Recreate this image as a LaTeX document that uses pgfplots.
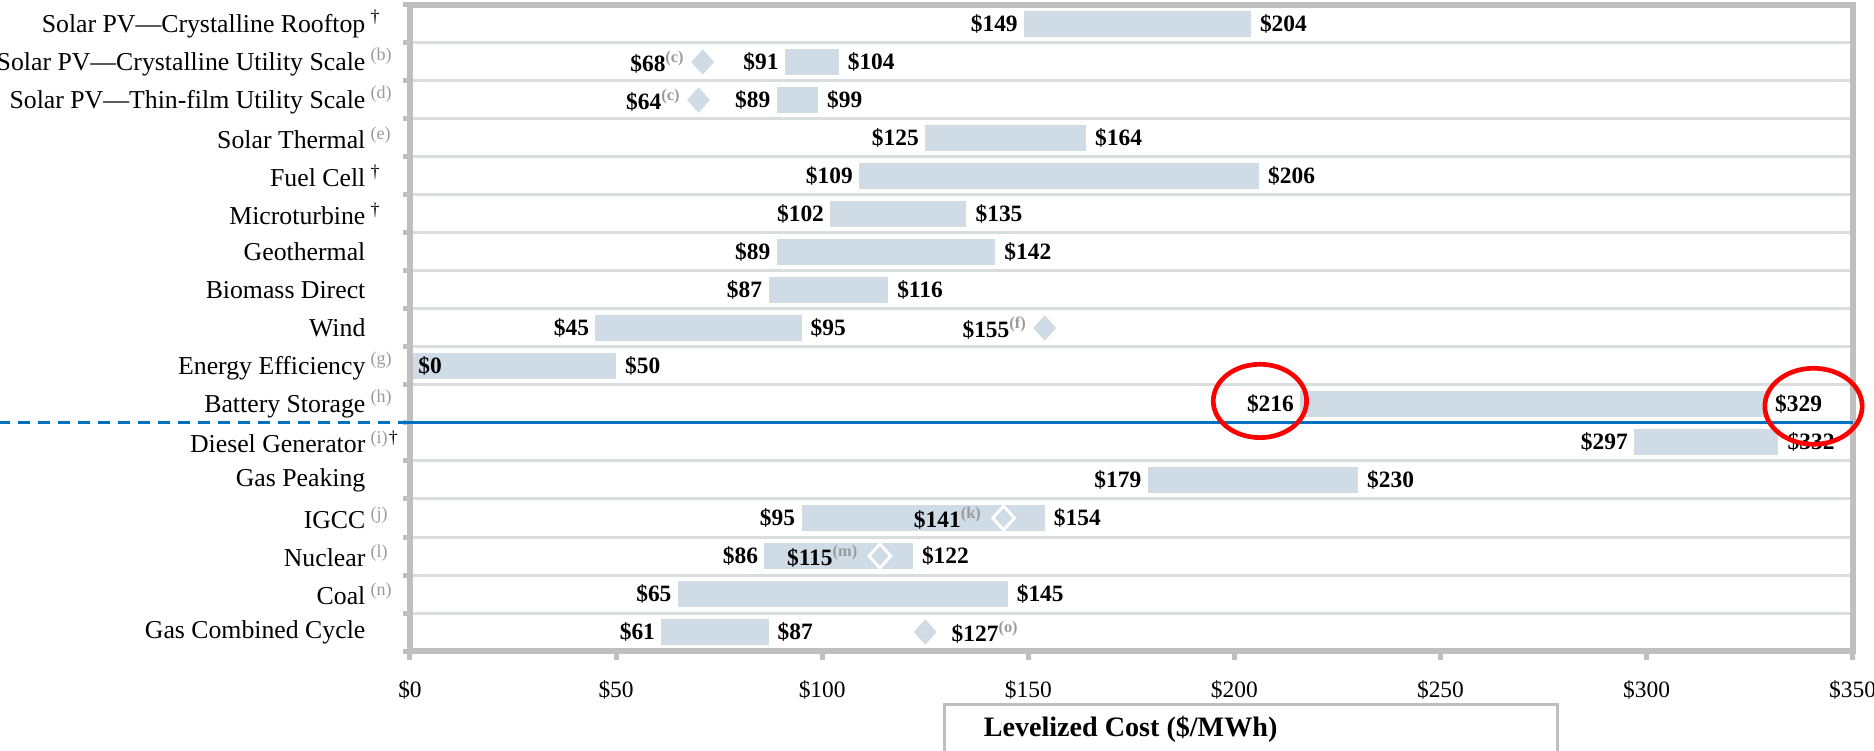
\documentclass[border=0pt]{standalone}
\usepackage{pgfplots}
\pgfplotsset{compat=1.18}
\usepackage{pgfplotstable}
\usepackage{fontspec}
\setmainfont{Liberation Serif}

\definecolor{barfill}{HTML}{CFDCE6}
\definecolor{frame}{HTML}{BFBFBF}
\definecolor{sepline}{HTML}{D9DDDD}
\definecolor{linkblue}{HTML}{0070C0}
\definecolor{supgray}{HTML}{9A9A9A}

% footnote marks: gray superscripts, hung to the right of the label
\newcommand{\sups}[1]{\textsuperscript{\color{supgray}#1}}
\newcommand{\trail}[1]{\rlap{\hspace{0.8mm}#1}}

% levelized cost ranges, $/MWh (row 1 = top of chart)
\pgfplotstableread{
row lo  hi
1   149 204
2   91  104
3   89  99
4   125 164
5   109 206
6   102 135
7   89  142
8   87  116
9   45  95
10  0   50
11  216 329
12  297 332
13  179 230
14  95  154
15  86  122
16  65  145
17  61  87
}\costs

\begin{document}
\begin{tikzpicture}
\begin{axis}[
    at={(0,0)}, anchor=south west,
    scale only axis,
    width=216.4mm, height=96.9mm,
    xmin=0, xmax=350,
    ymin=0.5, ymax=17.5,
    y dir=reverse,
    clip=false,
    axis on top,
    xtick={0,50,...,350},
    xticklabels={\$0,\$50,\$100,\$150,\$200,\$250,\$300,\$350},
    ytick={1,...,17},
    yticklabels={
        {Solar PV—Crystalline Rooftop\trail{\textsuperscript{†}}},
        {Solar PV—Crystalline Utility Scale\trail{\sups{(b)}}},
        {Solar PV—Thin-film Utility Scale\trail{\sups{(d)}}},
        {Solar Thermal\trail{\sups{(e)}}},
        {Fuel Cell\trail{\textsuperscript{†}}},
        {Microturbine\trail{\textsuperscript{†}}},
        Geothermal,
        Biomass Direct,
        Wind,
        {Energy Efficiency\trail{\sups{(g)}}},
        {Battery Storage\trail{\sups{(h)}}},
        {Diesel Generator\trail{\sups{(i)}\textsuperscript{†}}},
        Gas Peaking,
        {IGCC\trail{\sups{(j)}}},
        {Nuclear\trail{\sups{(l)}}},
        {Coal\trail{\sups{(n)}}},
        Gas Combined Cycle},
    minor ytick={0.5,1.5,...,17.5},
    yminorgrids=true,
    minor grid style={draw=sepline, line width=0.45mm},
    tick align=outside,
    xtick pos=bottom, ytick pos=left,
    major tick length=1.35mm,
    minor tick length=1.05mm,
    every major x tick/.append style={draw=frame, line width=0.75mm},
    every major y tick/.append style={draw=none},
    every minor y tick/.append style={draw=frame, line width=0.75mm},
    axis line style={draw=frame, line width=0.9mm},
    xticklabel style={font=\fontsize{10}{12}\selectfont, yshift=-1.9mm},
    yticklabel style={font=\fontsize{11}{13}\selectfont, xshift=-4.1mm},
    /pgf/number format/assume math mode=true,
    every node near coord/.append style={font=\bfseries\fontsize{10}{12}\selectfont, inner sep=0pt, text=black},
]

% bars: drawn as thick error bars from lo to hi
\addplot[draw=none, mark=none,
    error bars/.cd, x dir=plus, x explicit,
    error mark options={draw=none, fill=none, mark size=0pt},
    error bar style={draw=barfill, line width=4mm}]
    table[x=lo, y=row, x error expr=\thisrow{hi}-\thisrow{lo}] {\costs};

% low-end labels (left of bar), except energy efficiency
\addplot[draw=none, mark=none, point meta=\thisrow{lo},
    skip coords between index={9}{10},
    nodes near coords={\$\pgfmathprintnumber{\pgfplotspointmeta}},
    every node near coord/.append style={anchor=east, xshift=-0.9mm}]
    table[x=lo, y=row] {\costs};

% energy efficiency: $0 sits inside the bar
\addplot[draw=none, mark=none, point meta=x,
    nodes near coords={\$\pgfmathprintnumber{\pgfplotspointmeta}},
    every node near coord/.append style={anchor=west, xshift=1.2mm}]
    coordinates {(0,10)};

% high-end labels (right of bar)
\addplot[draw=none, mark=none, point meta=\thisrow{hi},
    nodes near coords={\$\pgfmathprintnumber{\pgfplotspointmeta}},
    every node near coord/.append style={anchor=west, xshift=1.3mm}]
    table[x=hi, y=row] {\costs};

% filled diamonds, label to the left
\addplot[only marks, mark=diamond*, mark size=1.8mm,
    mark options={xscale=1.2, draw=barfill, fill=barfill},
    point meta=explicit symbolic, nodes near coords,
    every node near coord/.append style={anchor=east, xshift=-2.6mm}]
    coordinates {(71,2) [\$68\sups{(c)}] (70,3) [\$64\sups{(c)}] (154,9) [\$155\sups{(f)}]};

% hollow diamonds on the bar, label to the left
\addplot[only marks, mark=diamond, mark size=1.8mm,
    mark options={xscale=1.2, draw=white, line width=0.45mm},
    point meta=explicit symbolic, nodes near coords,
    every node near coord/.append style={anchor=east, xshift=-3mm}]
    coordinates {(144,14) [\$141\sups{(k)}] (114,15) [\$115\sups{(m)}]};

% gas combined cycle diamond, label to the right
\addplot[only marks, mark=diamond*, mark size=1.8mm,
    mark options={xscale=1.2, draw=barfill, fill=barfill},
    point meta=explicit symbolic, nodes near coords,
    every node near coord/.append style={anchor=west, xshift=3.9mm}]
    coordinates {(125,17) [\$127\sups{(o)}]};

\coordinate (e1) at (axis cs:206.2,10.92);
\coordinate (e2) at (axis cs:340.5,11.06);
\coordinate (bl) at (axis cs:0,11.5);
\coordinate (br) at (axis cs:350,11.5);
\end{axis}

% divider between the two groups
\draw[linkblue, line width=0.45mm] (bl) -- (br);
\draw[linkblue, line width=0.45mm, dash pattern=on 1.8mm off 1.2mm] (bl) -- ++(-62mm,0);

% highlight circles
\draw[red, line width=0.7mm] (e1) ellipse [x radius=7mm, y radius=5.5mm];
\draw[red, line width=0.7mm] (e2) ellipse [x radius=7.3mm, y radius=5.7mm];

% boxed axis title
\draw[frame, line width=0.45mm] (80.1mm,-8.1mm) rectangle (172.05mm,-20mm);
\node[anchor=west, inner sep=0pt, font=\bfseries\fontsize{12}{14}\selectfont]
    at (86mm,-11.7mm) {Levelized Cost (\$/MWh)};

\pgfresetboundingbox
\path[use as bounding box] (-61.5mm,-15mm) rectangle (219.6mm,97.65mm);
\end{tikzpicture}
\end{document}
